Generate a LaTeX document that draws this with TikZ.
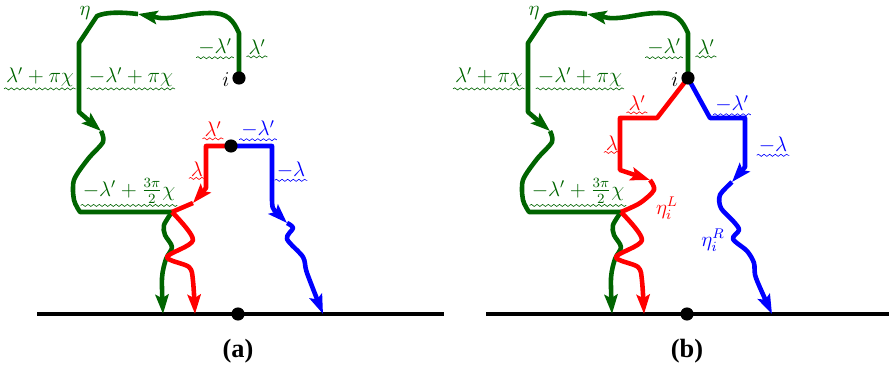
\documentclass[tikz,border=0pt]{standalone}
\usepackage{fontspec}
\newfontfamily\capfont{Liberation Serif}
\usetikzlibrary{arrows.meta,decorations.pathmorphing}
\definecolor{dgreen}{RGB}{0,100,0}

\begin{document}
\begin{tikzpicture}[x=0.02cm, y=-0.02cm, >={Stealth[length=11pt,width=7.5pt,inset=2pt]},
    every node/.style={font=\large},
    curve/.style={line width=2.6pt, line join=round, #1},
    wv/.style={decorate, decoration={snake, amplitude=0.6pt, segment length=3.2pt}, line width=0.35pt},
    ulab/.style={text=#1, inner sep=1pt, append after command={(\tikzlastnode.south west) edge[wv, draw=#1] (\tikzlastnode.south east)}},
    dot/.style={circle, fill=black, inner sep=0pt, minimum size=7.5pt}]
  \useasboundingbox (0,0) rectangle (889,366);

  % 1. gemeinsame Teile beider Bilder: Grundlinie, gruene Kurve, unterer roter Ast
  \foreach \dx/\p in {0/a,449/b} {
    \begin{scope}[shift={(\dx,0)}]
      \coordinate (i\p) at (239,78);
      \coordinate (j\p) at (172,212);
      \coordinate (o\p) at (238,314);
      \draw[line width=2.6pt] (37,314) -- (444,314);
      % gruene Kurve eta
      \draw[curve=dgreen,->] (i\p) -- (239,33) .. controls (233,20) and (228,13) .. (210,13) .. controls (190,13) and (178,19) .. (160,18) -- (138,14);
      \draw[curve=dgreen,->] (138,14) .. controls (120,12) and (106,12) .. (97,16) -- (79,43) -- (79,112) -- (101,131);
      \draw[curve=dgreen] plot[smooth] coordinates {(101,131) (103,142) (88,159) (74,180) (74,200) (80,212)} -- (j\p);
      \draw[curve=dgreen,->] plot[smooth] coordinates {(j\p) (164,225) (165,235) (172,247) (166,259) (162,278) (163,314)};
      \draw[curve=red,->] plot[smooth, tension=0.5] coordinates {(j\p) (193,240) (167,257) (189,267) (193,281) (195,314)};
      % Beschriftungen (gruen)
      \node[dgreen] (eta\p) at (85,13) {$\eta$};
      \node[ulab=dgreen] (ml\p) at (215,47) {$-\lambda'$};
      \node[ulab=dgreen] (lp\p) at (257,47) {$\lambda'$};
      \node (il\p) at (226,80) {$i$};
      \node[ulab=dgreen] (lpc\p) at (40,77) {$\lambda'+\pi\chi$};
      \node[ulab=dgreen] (mlpc\p) at (131,77) {$-\lambda'+\pi\chi$};
      \node[ulab=dgreen] (mlt\p) at (129,191) {$-\lambda'+\frac{3\pi}{2}\chi$};
    \end{scope}
  }

  % 2. Bild (a)
  \coordinate (pa) at (231,146);
  \draw[curve=red,->] (pa) -- (206,146) -- (206,188) -- (193,203);
  \draw[curve=red] (193,203) -- (ja);
  \draw[curve=blue,->] (pa) -- (272,146) -- (272,196) .. controls (272,208) .. (287,223);
  \draw[curve=blue,->] plot[smooth] coordinates {(287,223) (293,228) (287,239) (303,257) (307,273) (323,314)};
  \node[ulab=red] (lpra) at (213,129) {$\lambda'$};
  \node[ulab=blue] (mlba) at (258,129) {$-\lambda'$};
  \node[ulab=red] (lra) at (197,169) {$\lambda$};
  \node[ulab=blue] (mlb2a) at (291,170) {$-\lambda$};

  % 3. Bild (b)
  \draw[curve=red,->] (ib) -- (657,118) -- (620,118) -- (620,170) -- (650,180);
  \draw[curve=red] plot[smooth] coordinates {(650,180) (654,190) (640,203) (jb)};
  \draw[curve=blue,->] (ib) -- (710,118) -- (745,118) -- (745,167) -- (732,182);
  \draw[curve=blue,->] plot[smooth] coordinates {(732,182) (720,195) (721,208) (734,222) (739,230) (733,239) (747,251) (754,263) (756,278) (772,314)};
  \node[ulab=red] (lprb) at (637,103) {$\lambda'$};
  \node[ulab=blue] (mlbb) at (732,104) {$-\lambda'$};
  \node[ulab=red] (lrb) at (612,143) {$\lambda$};
  \node[ulab=blue] (mlb2b) at (773,145) {$-\lambda$};
  \node[red] (etaL) at (667,208) {$\eta_i^L$};
  \node[blue] (etaR) at (713,240) {$\eta_i^R$};

  % 4. Punkte und Unterschriften
  \node[dot] (dia) at (ia) {};
  \node[dot] (dpa) at (pa) {};
  \node[dot] (doa) at (oa) {};
  \node[dot] (dib) at (ib) {};
  \node[dot] (dob) at (ob) {};
  \node[font=\capfont\bfseries\fontsize{15}{17}\selectfont] (capa) at (238,351) {(a)};
  \node[font=\capfont\bfseries\fontsize{15}{17}\selectfont] (capb) at (687,351) {(b)};
\end{tikzpicture}
\end{document}
